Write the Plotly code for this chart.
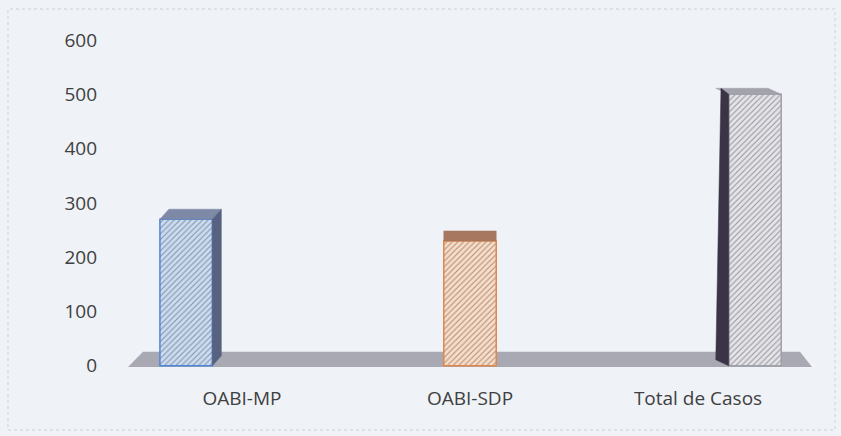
import plotly.graph_objects as go

categories = ["OABI-MP", "OABI-SDP", "Total de Casos"]
values = [270, 230, 500]
y_ticks = [0, 100, 200, 300, 400, 500, 600]

W, H = 841, 436
L, R, T, B = 128, 29, 40, 68
YMIN, YMAX = -4, 600
XMIN, XMAX = -0.5, 2.5
pw = W - L - R
ph = H - T - B
ux = (XMAX - XMIN) / pw      # data units per px (x)
uy = (YMAX - YMIN) / ph      # data units per px (y)

front_fill = ["#cadcf3", "#fcdcc4", "#e4e4ea"]
hatch_col = ["#7fa8e2", "#eba273", "#b0b0ba"]
edge_col = ["#4f85d8", "#e0874c", "#a0a0aa"]
top_col = ["#7d89a6", "#a77760", "#a3a3ad"]
side_col = ["#56627f", "#a77760", "#3a3446"]
offsets = [-0.36, -0.115, 0.135]
bw = 0.23
depth = [(9, 10), (0, 10), (-13, 6)]  # px

fig = go.Figure()
fig.add_trace(go.Bar(
    x=categories, y=values, width=bw, offset=offsets,
    marker=dict(color=front_fill,
                line=dict(color=edge_col, width=1.5),
                pattern=dict(shape="/", fgcolor=hatch_col, bgcolor=front_fill,
                             size=4, solidity=0.25, fillmode="overlay")),
    hoverinfo="skip", showlegend=False,
))

shapes = []
# floor
fl_h = 26
shapes.append(dict(type="path", xref="x", yref="y", layer="below",
                   path=f"M {XMIN} {YMIN+2} L {XMAX} {YMIN+2} L {XMAX-12*ux} {fl_h} L {XMIN+15*ux} {fl_h} Z",
                   fillcolor="#a9a9b3", line=dict(width=0)))
for i, v in enumerate(values):
    x0 = i + offsets[i]
    x1 = x0 + bw
    dx, dy = depth[i][0] * ux, depth[i][1] * uy
    # top face
    shapes.append(dict(type="path", xref="x", yref="y", layer="above",
                       path=f"M {x0} {v} L {x1} {v} L {x1+dx} {v+dy} L {x0+dx} {v+dy} Z",
                       fillcolor=top_col[i], line=dict(color=top_col[i], width=0.5)))
    if dx > 0:
        shapes.append(dict(type="path", xref="x", yref="y", layer="above",
                           path=f"M {x1} 0 L {x1} {v} L {x1+dx} {v+dy} L {x1+dx} {dy} Z",
                           fillcolor=side_col[i], line=dict(color=side_col[i], width=0.5)))
    elif dx < 0:
        shapes.append(dict(type="path", xref="x", yref="y", layer="above",
                           path=f"M {x0} 0 L {x0} {v} L {x0+dx*0.6} {v+dy} L {x0+dx} {dy} Z",
                           fillcolor=side_col[i], line=dict(color=side_col[i], width=0.5)))

# outer dashed border
bx0 = (8 - L) / pw
bx1 = (W - 6 - L) / pw
by1 = 1 + (T - 9) / ph
by0 = -(B - 6) / ph
shapes.append(dict(type="rect", xref="paper", yref="paper", x0=bx0, x1=bx1, y0=by0, y1=by1,
                   line=dict(color="#cfd0d6", width=1, dash="dot"), fillcolor="rgba(0,0,0,0)"))

fig.update_layout(
    width=W, height=H,
    margin=dict(l=L, r=R, t=T, b=B),
    paper_bgcolor="#eff2f7", plot_bgcolor="#eff2f7",
    shapes=shapes,
    font=dict(family="Open Sans, Liberation Sans, sans-serif", size=19, color="#404040"),
    xaxis=dict(range=[XMIN, XMAX], showgrid=False, zeroline=False, showline=False,
               ticks="", tickfont=dict(size=19, color="#404040"), ticklabelstandoff=17),
    yaxis=dict(range=[YMIN, YMAX], tickvals=y_ticks, showgrid=False, zeroline=False,
               showline=False, ticks="", tickfont=dict(size=19, color="#404040"),
               ticklabelstandoff=30),
)
fig.write_html("out.html", config={"displayModeBar": False},
               post_script="document.body.style.margin='0px';")
